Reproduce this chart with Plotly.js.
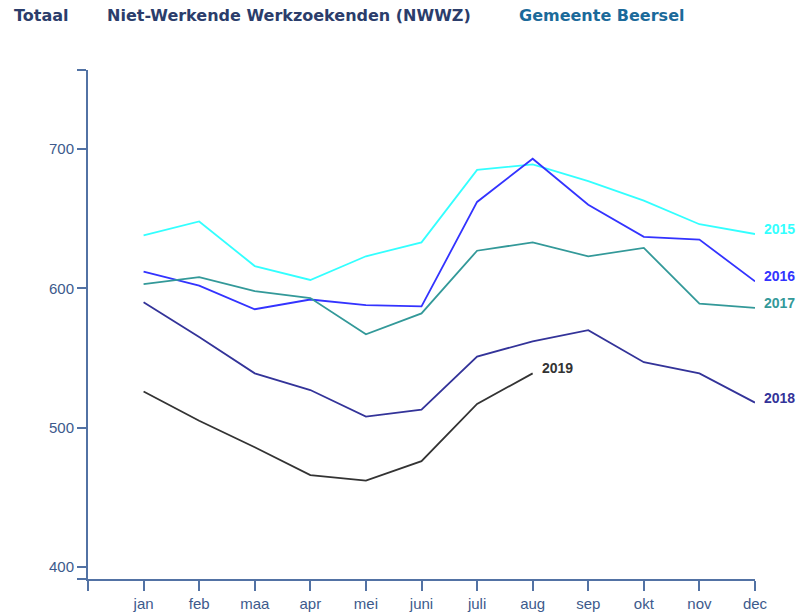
<!DOCTYPE html>
<html>
<head>
<meta charset="utf-8">
<script src="https://cdn.plot.ly/plotly-3.0.1.min.js"></script>
<style>
html,body{margin:0;padding:0;background:#fff;}
#chart{width:801px;height:612px;}
</style>
</head>
<body>
<div id="chart"></div>
<script>
const months = ['jan','feb','maa','apr','mei','juni','juli','aug','sep','okt','nov','dec'];
const monthIdx = [1,2,3,4,5,6,7,8,9,10,11,12];
const years = ['2015','2016','2017','2018','2019'];
const v2015 = [638, 648, 616, 606, 623, 633, 685, 689, 677, 663, 646, 639];
const v2016 = [612, 602, 585, 592, 588, 587, 662, 693, 660, 637, 635, 605];
const v2017 = [603, 608, 598, 593, 567, 582, 627, 633, 623, 629, 589, 586];
const v2018 = [590, 565, 539, 527, 508, 513, 551, 562, 570, 547, 539, 518];
const v2019 = [526, 505, 486, 466, 462, 476, 517, 539];
const colors = ['#33ffff', '#3333ff', '#339999', '#333399', '#333333'];
const yTicks = [400, 500, 600, 700];
const yRange = [391.4, 756.7];
const xRange = [0, 12];

const series = [v2015, v2016, v2017, v2018, v2019];
const traces = series.map((vals, i) => ({
  x: monthIdx.slice(0, vals.length),
  y: vals,
  type: 'scatter',
  mode: 'lines',
  line: {color: colors[i], width: 1.8},
  hoverinfo: 'skip',
  showlegend: false
}));

const labelAnn = series.map((vals, i) => ({
  x: monthIdx[vals.length - 1],
  y: vals[vals.length - 1],
  xref: 'x', yref: 'y',
  text: years[i],
  showarrow: false,
  xanchor: 'left', yanchor: 'middle',
  xshift: 7, yshift: 5,
  font: {family: 'Liberation Sans, Arial, sans-serif', size: 14, color: colors[i], weight: 'bold'}
}));

const titleFont = {family: 'DejaVu Sans, Verdana, sans-serif', size: 16, weight: 'bold'};
const titleAnn = [
  {text: 'Totaal', x: (12 - 88) / 667, color: '#2b3d6b'},
  {text: 'Niet-Werkende Werkzoekenden (NWWZ)', x: (105 - 88) / 667, color: '#2b3d6b'},
  {text: 'Gemeente Beersel', x: (517 - 88) / 667, color: '#1b6a9a'}
].map(t => ({
  text: t.text, x: t.x, y: (579 - 16) / 509,
  xref: 'paper', yref: 'paper', xanchor: 'left', yanchor: 'middle',
  showarrow: false,
  font: Object.assign({}, titleFont, {color: t.color})
}));

const axisColor = '#5272a4';
const tickFont = {family: 'Liberation Sans, Arial, sans-serif', size: 15, color: '#3d5a8c'};

const layout = {
  width: 801, height: 612,
  margin: {l: 88, r: 46, t: 70, b: 33},
  paper_bgcolor: '#ffffff',
  plot_bgcolor: '#ffffff',
  showlegend: false,
  xaxis: {
    range: xRange,
    tickmode: 'array',
    tickvals: [0].concat(monthIdx),
    ticktext: [''].concat(months),
    ticks: 'outside', ticklen: 10, tickwidth: 2, tickcolor: axisColor,
    showline: true, linecolor: axisColor, linewidth: 2,
    showgrid: false, zeroline: false,
    tickfont: tickFont
  },
  yaxis: {
    range: yRange,
    tickmode: 'array',
    tickvals: [yRange[0]].concat(yTicks, [yRange[1]]),
    ticktext: [''].concat(yTicks.map(String), ['']),
    ticks: 'outside', ticklen: 9, tickwidth: 2, tickcolor: axisColor,
    showline: true, linecolor: axisColor, linewidth: 2,
    showgrid: false, zeroline: false,
    tickfont: tickFont
  },
  annotations: titleAnn.concat(labelAnn)
};

Plotly.newPlot('chart', traces, layout, {displayModeBar: false, staticPlot: true});
</script>
</body>
</html>
